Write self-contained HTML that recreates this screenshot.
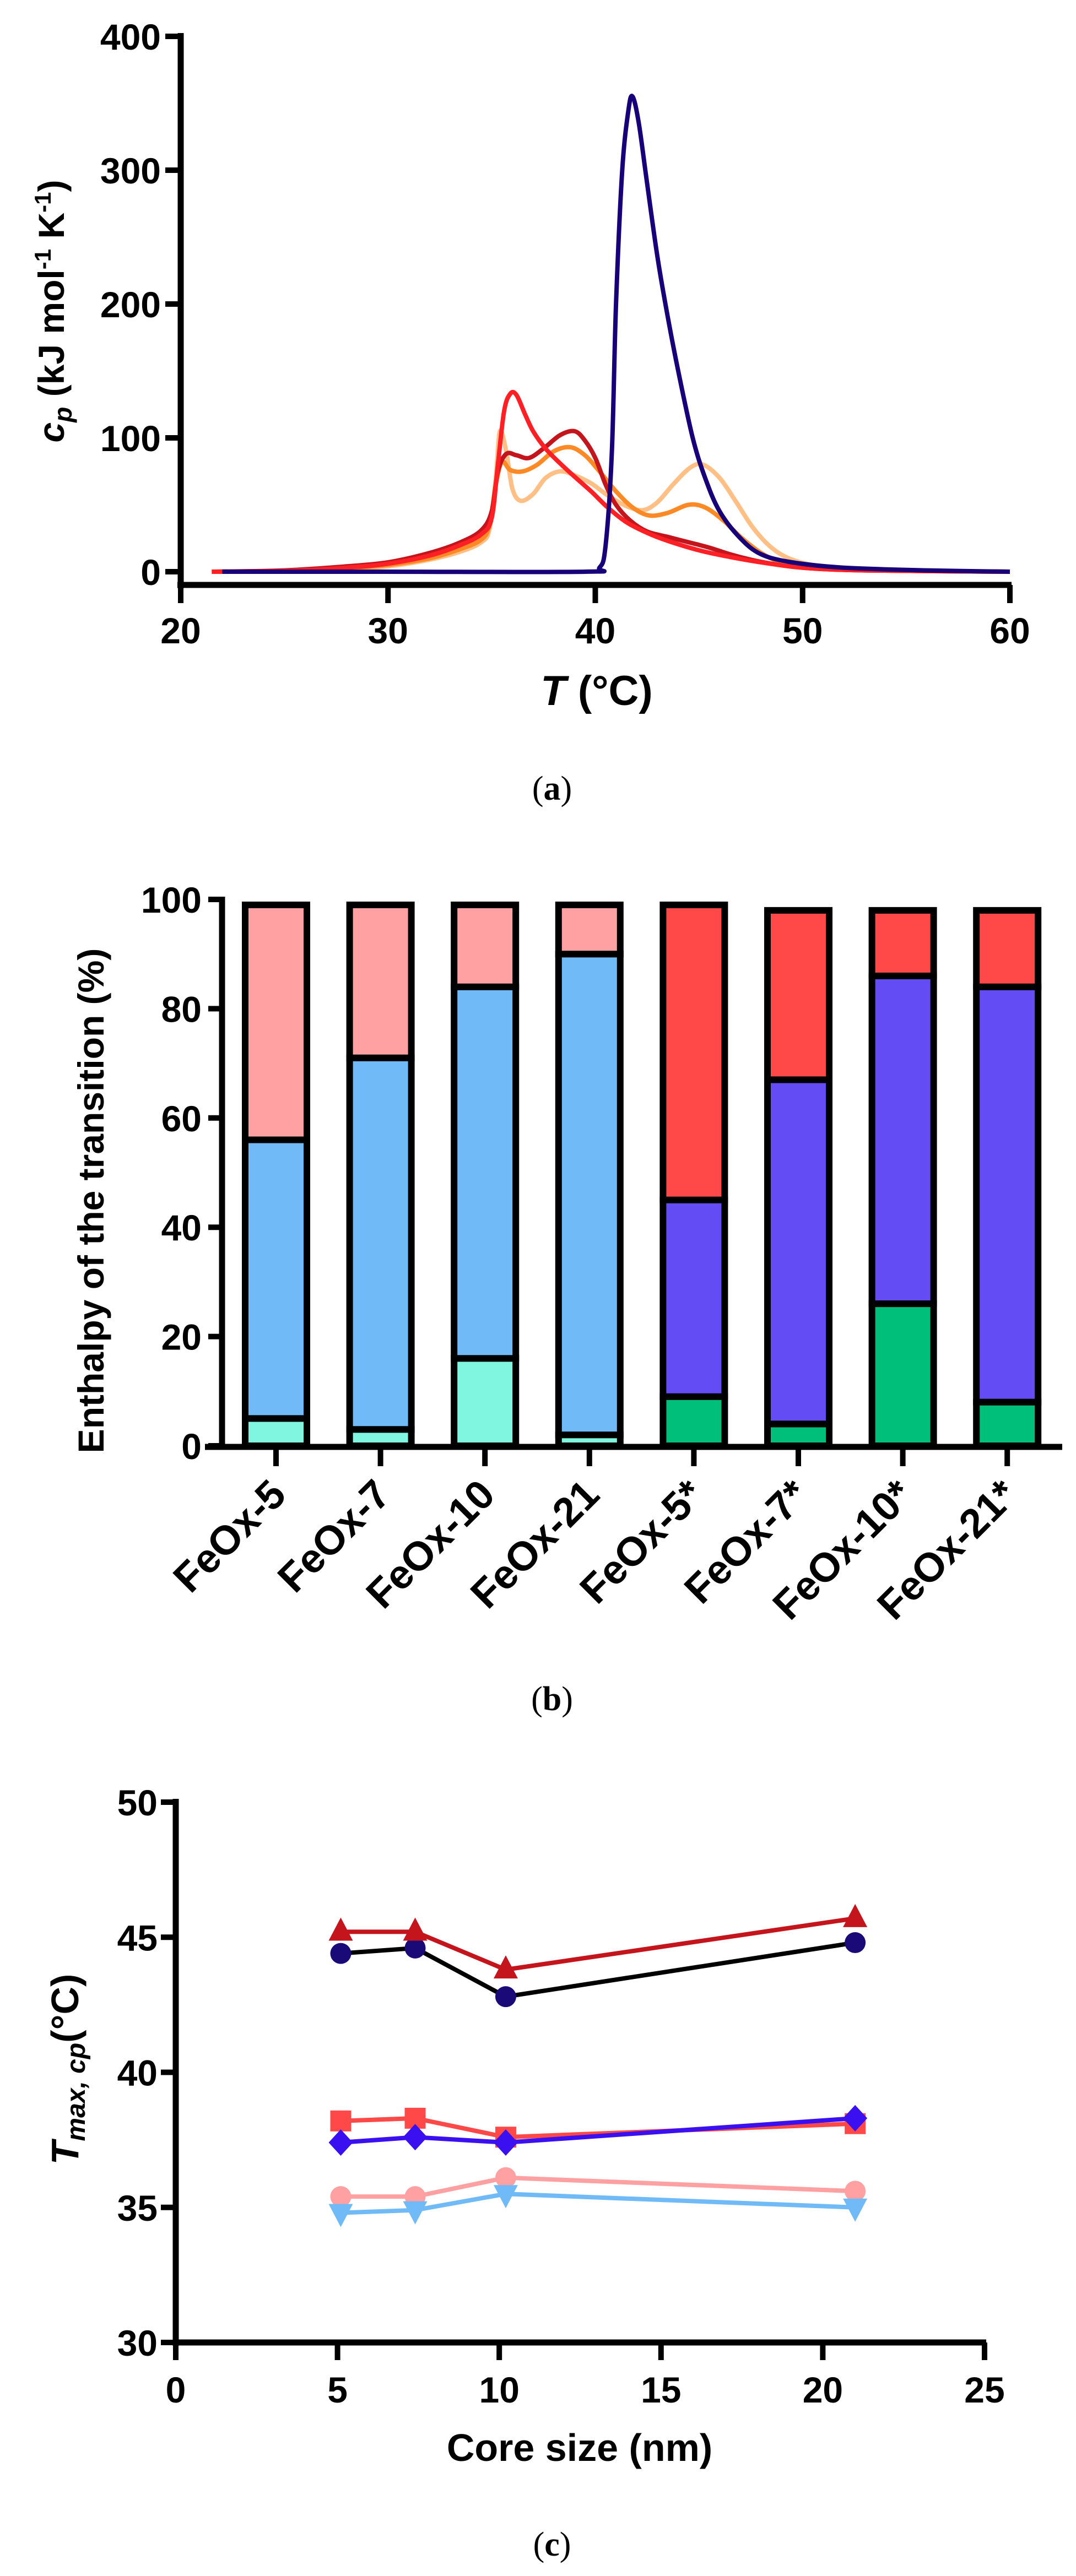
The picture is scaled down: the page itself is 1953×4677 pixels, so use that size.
<!DOCTYPE html>
<html><head><meta charset="utf-8">
<style>
html,body{margin:0;padding:0;background:#fff;}
svg{display:block;}
.tick{font-family:"Liberation Sans Narrow","Liberation Sans",sans-serif;font-weight:bold;font-size:66px;fill:#000;}
.title{font-family:"Liberation Sans",sans-serif;font-weight:bold;font-size:62px;fill:#000;}
.cat{font-family:"Liberation Sans",sans-serif;font-weight:bold;font-size:74px;fill:#000;}
.cap{font-family:"Liberation Serif",serif;font-size:62px;fill:#000;}
</style></head>
<body>
<svg id="fig" width="1953" height="4677" viewBox="0 0 1953 4677">
<g id="pa"></g>
<g id="pb"></g>
<g id="pc"></g>
</svg>
<script>
// ---------- Panel A data ----------
const aXTicks = [20, 30, 40, 50, 60];
const aYTicks = [0, 100, 200, 300, 400];
const aNames = ['navy-curve', 'light-orange-curve', 'orange-curve', 'dark-red-curve', 'red-curve'];
const aColors = ['#170078', '#ffbf85', '#ff8a25', '#c4141c', '#ff2025'];
const aT_navy = [22, 30, 39.5, 40.2, 40.5, 40.8, 41.0, 41.3, 41.6, 41.8, 42.1, 42.5, 43.0, 43.5, 44.0, 44.7, 45.3, 46.0, 47.0, 48.0, 49.5, 52, 56, 60];
const aY_navy = [0, 0, 0, 3, 20, 90, 200, 300, 345, 355, 335, 290, 235, 190, 150, 100, 70, 45, 25, 13, 7, 3, 1, 0];
const aT_lo = [21.5, 25, 28, 30, 32, 33.5, 34.5, 34.9, 35.2, 35.4, 35.7, 36.0, 36.4, 37.0, 37.6, 38.3, 39.0, 39.8, 40.6, 41.5, 42.3, 43.0, 43.8, 44.6, 45.2, 46.0, 46.8, 47.6, 48.5, 49.5, 51, 54, 60];
const aY_lo = [0, 0.5, 2, 4, 9, 15, 22, 32, 70, 105, 90, 62, 53, 58, 70, 75, 72, 66, 57, 49, 46, 52, 66, 78, 80, 70, 52, 33, 18, 9, 4, 1, 0];
const aT_or = [21.5, 25, 28, 30, 32, 33.5, 34.5, 34.9, 35.2, 35.5, 35.9, 36.5, 37.2, 38.0, 38.8, 39.5, 40.2, 41.0, 41.8, 42.6, 43.5, 44.5, 45.3, 46.2, 47.0, 48.0, 49.0, 50.5, 53, 60];
const aY_or = [0, 0.5, 2.5, 5, 10, 17, 24, 35, 65, 82, 76, 75, 80, 90, 93, 87, 75, 60, 48, 42, 44, 50, 48, 38, 26, 14, 7, 3, 1, 0];
const aT_dr = [21.5, 25, 28, 30, 32, 33.5, 34.5, 35.0, 35.3, 35.7, 36.2, 36.8, 37.5, 38.3, 39.0, 39.5, 40.0, 40.5, 41.0, 41.7, 42.5, 43.5, 44.5, 45.5, 46.5, 47.5, 48.5, 50, 53, 60];
const aY_dr = [0, 1, 4, 7, 14, 22, 31, 45, 75, 88, 87, 85, 92, 102, 105, 98, 85, 65, 50, 38, 30, 26, 22, 18, 13, 9, 6, 3, 1, 0];
const aT_rd = [21.5, 25, 28, 30, 32, 33.5, 34.5, 35.0, 35.3, 35.6, 35.9, 36.2, 36.6, 37.0, 37.6, 38.3, 39.0, 39.8, 40.6, 41.5, 42.5, 43.5, 45.0, 46.5, 48.0, 50, 53, 60];
const aY_rd = [0, 0.5, 3, 6, 12, 20, 28, 40, 80, 120, 133, 132, 118, 105, 92, 81, 71, 60, 48, 37, 29, 23, 16, 11, 7, 3, 1, 0];

// ---------- Panel B data ----------
const bCats = ['FeOx-5', 'FeOx-7', 'FeOx-10', 'FeOx-21', 'FeOx-5*', 'FeOx-7*', 'FeOx-10*', 'FeOx-21*'];
const bLow = [5, 3, 16, 2, 9, 4, 26, 8];
const bMid = [56, 71, 84, 90, 45, 67, 86, 84];
const bTop = [99, 99, 99, 99, 99, 98, 98, 98];
const bYTicks = [0, 20, 40, 60, 80, 100];

// ---------- Panel C data ----------
const cX = [5.1, 7.4, 10.2, 21];
const cTriUp = [45.2, 45.2, 43.8, 45.7];
const cNavy = [44.4, 44.6, 42.8, 44.8];
const cSquare = [38.2, 38.3, 37.6, 38.1];
const cDiamond = [37.4, 37.6, 37.4, 38.3];
const cPink = [35.4, 35.4, 36.1, 35.6];
const cTriDown = [34.8, 34.9, 35.5, 35.0];
const cXTicks = [0, 5, 10, 15, 20, 25];
const cYTicks = [30, 35, 40, 45, 50];

const NS = 'http://www.w3.org/2000/svg';
function mk(tag, attrs, parent, txt) {
  const e = document.createElementNS(NS, tag);
  for (const k in attrs) e.setAttribute(k, attrs[k]);
  if (txt !== undefined) e.textContent = txt;
  parent.appendChild(e);
  return e;
}
function smooth(pts) {
  let d = 'M' + pts[0][0].toFixed(1) + ',' + pts[0][1].toFixed(1);
  for (let i = 0; i < pts.length - 1; i++) {
    const p0 = pts[Math.max(0, i - 1)], p1 = pts[i], p2 = pts[i + 1], p3 = pts[Math.min(pts.length - 1, i + 2)];
    const c1x = p1[0] + (p2[0] - p0[0]) / 6, c1y = p1[1] + (p2[1] - p0[1]) / 6;
    const c2x = p2[0] - (p3[0] - p1[0]) / 6, c2y = p2[1] - (p3[1] - p1[1]) / 6;
    d += 'C' + c1x.toFixed(1) + ',' + c1y.toFixed(1) + ' ' + c2x.toFixed(1) + ',' + c2y.toFixed(1) + ' ' + p2[0].toFixed(1) + ',' + p2[1].toFixed(1);
  }
  return d;
}

// ===== Panel A =====
(function () {
  const g = document.getElementById('pa');
  const X = t => 328 + (t - 20) / 40 * (1833 - 328);
  const Y = v => 1038 - v / 400 * (1038 - 66);
  const series = [[aT_navy, aY_navy], [aT_lo, aY_lo], [aT_or, aY_or], [aT_dr, aY_dr], [aT_rd, aY_rd]];
  const order = [1, 2, 3, 4, 0];
  order.forEach(i => {
    const [ts, vs] = series[i];
    const pts = ts.map((t, j) => [X(t), Y(vs[j])]);
    const p = mk('path', { d: smooth(pts), fill: 'none', stroke: aColors[i], 'stroke-width': 8, 'stroke-linejoin': 'round' }, g);
    
    
  });
  const ya = mk('line', { x1: 328, y1: 60, x2: 328, y2: 1068, stroke: '#000', 'stroke-width': 11 }, g);
  
  
  const xa = mk('line', { x1: 322, y1: 1062, x2: 1836, y2: 1062, stroke: '#000', 'stroke-width': 11 }, g);
  
  
  aYTicks.forEach(v => {
    mk('line', { x1: 300, y1: Y(v), x2: 328, y2: Y(v), stroke: '#000', 'stroke-width': 10 }, g);
    const t = mk('text', { x: 292, y: Y(v) + 24, 'text-anchor': 'end', class: 'tick' }, g, String(v));
    
    
  });
  aXTicks.forEach(v => {
    mk('line', { x1: X(v), y1: 1062, x2: X(v), y2: 1095, stroke: '#000', 'stroke-width': 10 }, g);
    const t = mk('text', { x: X(v), y: 1168, 'text-anchor': 'middle', class: 'tick' }, g, String(v));
    
    
  });
})();

// ===== Panel B =====
(function () {
  const g = document.getElementById('pb');
  const Y = v => 2625 - v / 100 * (2625 - 1633);
  const cx = i => 501 + i * 189.6;
  const lightC = ['#80f5df', '#70bbf7', '#ffa0a2'];
  const darkC = ['#00bf7a', '#634cf4', '#ff4848'];
  bCats.forEach((c, i) => {
    const cols = i < 4 ? lightC : darkC;
    const x0 = cx(i) - 56, w = 112;
    const segs = [[0, bLow[i]], [bLow[i], bMid[i]], [bMid[i], bTop[i]]];
    segs.forEach((s, k) => {
      const r = mk('rect', { x: x0, y: Y(s[1]), width: w, height: Y(s[0]) - Y(s[1]), fill: cols[k], stroke: '#000', 'stroke-width': 12 }, g);
      
      
    });
    mk('line', { x1: cx(i), y1: 2627, x2: cx(i), y2: 2662, stroke: '#000', 'stroke-width': 10 }, g);
    const t = mk('text', { x: 0, y: 0, 'text-anchor': 'end', class: 'cat', transform: 'translate(' + (cx(i) + 22) + ',2718) rotate(-45)' }, g, c);
    
    
  });
  const ya = mk('line', { x1: 403, y1: 1628, x2: 403, y2: 2632, stroke: '#000', 'stroke-width': 11 }, g);
  
  
  const xa = mk('line', { x1: 372, y1: 2627, x2: 1928, y2: 2627, stroke: '#000', 'stroke-width': 11 }, g);
  
  
  bYTicks.forEach(v => {
    mk('line', { x1: 378, y1: Y(v), x2: 403, y2: Y(v), stroke: '#000', 'stroke-width': 10 }, g);
    const t = mk('text', { x: 366, y: Y(v) + 24, 'text-anchor': 'end', class: 'tick' }, g, String(v));
    
    
  });
})();

// ===== Panel C =====
(function () {
  const g = document.getElementById('pc');
  const X = v => 319 + v / 25 * (1787 - 319);
  const Y = v => 4253 - (v - 30) / 20 * (4253 - 3272);
  const ya = mk('line', { x1: 319, y1: 3266, x2: 319, y2: 4259, stroke: '#000', 'stroke-width': 11 }, g);
  
  
  const xa = mk('line', { x1: 314, y1: 4253, x2: 1790, y2: 4253, stroke: '#000', 'stroke-width': 11 }, g);
  
  
  cYTicks.forEach(v => {
    mk('line', { x1: 292, y1: Y(v), x2: 319, y2: Y(v), stroke: '#000', 'stroke-width': 10 }, g);
    const t = mk('text', { x: 286, y: Y(v) + 24, 'text-anchor': 'end', class: 'tick' }, g, String(v));
    
    
  });
  cXTicks.forEach(v => {
    mk('line', { x1: X(v), y1: 4253, x2: X(v), y2: 4285, stroke: '#000', 'stroke-width': 10 }, g);
    const t = mk('text', { x: X(v), y: 4362, 'text-anchor': 'middle', class: 'tick' }, g, String(v));
    
    
  });
  const ser = [
    ['pink-circle-series', cPink, '#ffa0a2', '#ffa0a2', 'circle'],
    ['lightblue-triangle-series', cTriDown, '#70bbf7', '#70bbf7', 'tridown'],
    ['red-square-series', cSquare, '#ff4848', '#ff4848', 'square'],
    ['blue-diamond-series', cDiamond, '#3a10f0', '#3a10f0', 'diamond'],
    ['navy-circle-series', cNavy, '#000', '#1a0a78', 'circle'],
    ['darkred-triangle-series', cTriUp, '#c4141c', '#c4141c', 'triup']
  ];
  ser.forEach(s => {
    const sg = mk('g', {}, g);
    
    
    let d = '';
    cX.forEach((x, j) => { d += (j ? 'L' : 'M') + X(x).toFixed(1) + ',' + Y(s[1][j]).toFixed(1); });
    mk('path', { d: d, fill: 'none', stroke: s[2], 'stroke-width': 8 }, sg);
    cX.forEach((x, j) => {
      const px = X(x), py = Y(s[1][j]);
      let m;
      if (s[4] === 'circle') m = mk('circle', { cx: px, cy: py, r: 19, fill: s[3] }, sg);
      else if (s[4] === 'square') m = mk('rect', { x: px - 19, y: py - 19, width: 38, height: 38, fill: s[3] }, sg);
      else if (s[4] === 'diamond') m = mk('polygon', { points: [px, py - 24, px + 22, py, px, py + 24, px - 22, py].join(' '), fill: s[3] }, sg);
      else if (s[4] === 'triup') m = mk('polygon', { points: [px, py - 26, px + 22, py + 16, px - 22, py + 16].join(' '), fill: s[3] }, sg);
      else m = mk('polygon', { points: [px, py + 26, px + 22, py - 16, px - 22, py - 16].join(' '), fill: s[3] }, sg);
      
      
    });
  });
})();
</script>
<script>
(function(){
  const svg = document.getElementById('fig');
  const NS = 'http://www.w3.org/2000/svg';
  const html = `
  <text class="title" transform="translate(116,565) rotate(-90)" text-anchor="middle" style="font-size:66px"><tspan font-style="italic">c</tspan><tspan font-style="italic" font-size="46" dy="14">p</tspan><tspan dy="-14"> (kJ mol</tspan><tspan font-size="42" dy="-24">-1</tspan><tspan dy="24"> K</tspan><tspan font-size="42" dy="-24">-1</tspan><tspan dy="24">)</tspan></text>
  <text class="title" x="1083" y="1280" text-anchor="middle" style="font-size:76px"><tspan font-style="italic">T</tspan> (°C)</text>
  <text class="cap" x="1002" y="1452" text-anchor="middle">(<tspan font-weight="bold">a</tspan>)</text>
  <text class="title" transform="translate(188,2180) rotate(-90)" text-anchor="middle" style="font-size:66px">Enthalpy of the transition (%)</text>
  <text class="cap" x="1002" y="3105" text-anchor="middle">(<tspan font-weight="bold">b</tspan>)</text>
  <text class="title" transform="translate(142,3757) rotate(-90)" text-anchor="middle" style="font-size:70px"><tspan font-style="italic">T</tspan><tspan font-style="italic" font-size="48" dy="12">max, cp</tspan><tspan dy="-12">(°C)</tspan></text>
  <text class="title" x="1052" y="4468" text-anchor="middle" style="font-size:70px">Core size (nm)</text>
  <text class="cap" x="1002" y="4640" text-anchor="middle">(<tspan font-weight="bold">c</tspan>)</text>`;
  const tmp = document.createElementNS(NS, 'g');
  tmp.innerHTML = html;
  svg.appendChild(tmp);
})();
</script>
</body></html>
